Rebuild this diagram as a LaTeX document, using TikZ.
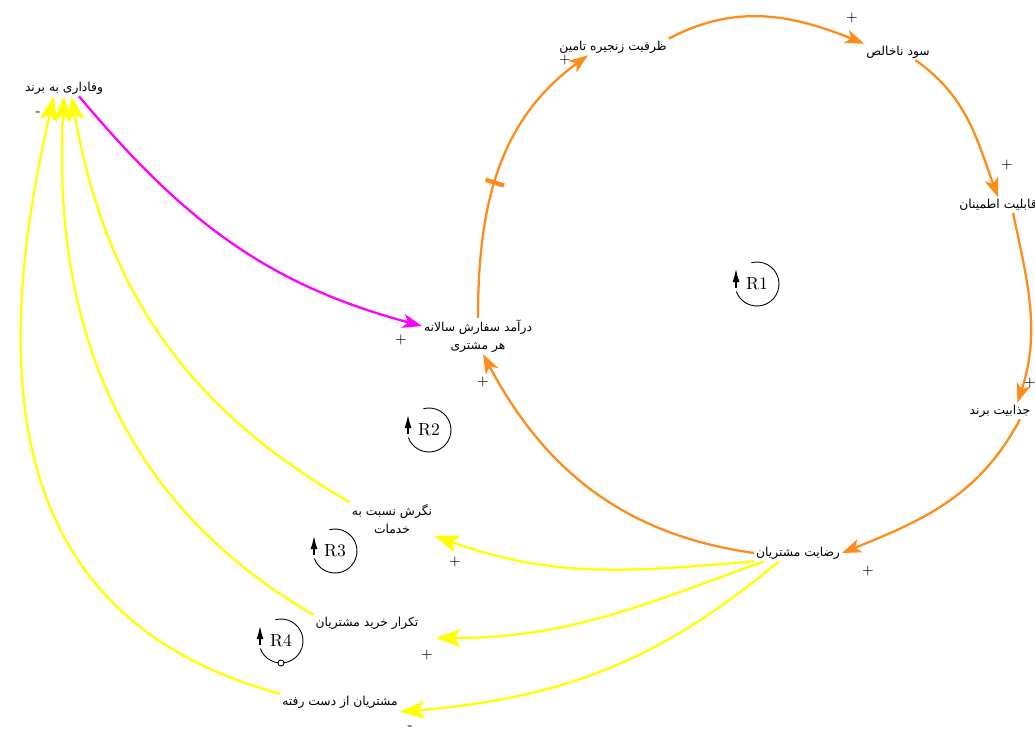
\documentclass[tikz,border=0pt]{standalone}
\usepackage{fontspec}
\newfontfamily\farsi[Script=Arabic]{DejaVu Sans}
\TeXXeTstate=1
\usetikzlibrary{arrows.meta,positioning}

\definecolor{ringor}{RGB}{255,140,26}
\definecolor{linkye}{RGB}{255,255,0}
\definecolor{linkmg}{RGB}{255,0,255}

\begin{document}
\begin{tikzpicture}[x=0.02cm, y=0.02cm,
		var/.style={font=\farsi\fontsize{7}{10}\selectfont, align=center, inner sep=1pt},
		sgn/.style={font=\fontsize{8}{8}\selectfont, inner sep=0pt},
		loopname/.style={font=\fontsize{10}{10}\selectfont, inner sep=0pt},
		ringarrow/.style={draw=ringor, line width=1.3pt, -{Stealth[length=11pt,width=8pt,inset=3pt]}},
		yearrow/.style={draw=linkye, line width=1.3pt, -{Stealth[length=14pt,width=10pt,inset=3pt]}},
		mgarrow/.style={draw=linkmg, line width=1.3pt, -{Stealth[length=11pt,width=8pt,inset=3pt]}},
		delaymark/.style={fill=ringor, minimum width=2.5pt, minimum height=11pt, inner sep=0pt},
		looparc/.style={draw, line width=0.5pt}
		]
		\useasboundingbox (0,0) rectangle (1035,-733);

		% variables
		\node[var](L) at (64,-88){\beginR وفاداری به برند\endR};
		\node[var](S) at (613,-47){\beginR ظرفیت زنجیره تامین\endR};
		\node[var](P) at (898,-52){\beginR سود ناخالص\endR};
		\node[var](Rl) at (998,-205){\beginR قابلیت اطمینان\endR};
		\node[var](A) at (1000,-411){\beginR جذابیت برند\endR};
		\node[var](C) at (798,-553){\beginR رضایت مشتریان\endR};
		\node[var](V) at (478,-336){\beginR درآمد سفارش سالانه\endR\\ \beginR هر مشتری\endR};
		\node[var](T) at (392,-519){\beginR نگرش نسبت به\endR\\ \beginR خدمات\endR};
		\node[var, below of = T, xshift = -0.5cm, yshift = -1.08cm](Rp){\beginR تکرار خرید مشتریان\endR};
		\node[var, below of = Rp, xshift = -0.54cm, yshift = -0.58cm](X){\beginR مشتریان از دست رفته\endR};

		% main ring
		\draw[ringarrow] (V.north) to[out=90,in=216] node[delaymark, pos=0.45, sloped]{} ([xshift=-0.5cm]S.south);
		\draw[ringarrow] (S.north east) to[out=28,in=158] (P.north west);
		\draw[ringarrow] ([xshift=0.35cm]P.south) to[out=-35,in=110] (Rl.north);
		\draw[ringarrow] ([xshift=0.3cm]Rl.south) to[out=-78,in=72] ([xshift=0.35cm]A.north);
		\draw[ringarrow] ([xshift=0.4cm]A.south) to[out=-118,in=22] (C.east);
		\draw[ringarrow] (C.west) to[out=172,in=-62] ([xshift=0.1cm]V.south);

		% loyalty link
		\draw[mgarrow] ([xshift=0.3cm]L.south) to[out=-50,in=165] ([yshift=0.2cm]V.west);

		% satisfaction links
		\draw[yearrow] (C.south west) to[out=185,in=-20] (T.south east);
		\draw[yearrow] ([xshift=0.2cm]C.south west) to[out=200,in=0] ([xshift=0.3cm,yshift=-0.3cm]Rp.east);
		\draw[yearrow] ([xshift=0.5cm]C.south west) to[out=220,in=5] ([yshift=-0.2cm]X.east);

		% back to loyalty
		\draw[yearrow] (T.north west) to[out=150,in=-80] ([xshift=0.15cm]L.south);
		\draw[yearrow] (Rp.north west) to[out=150,in=-93] (L.south);
		\draw[yearrow] (X.north west) to[out=165,in=-103, looseness=1.15] ([xshift=-0.2cm]L.south);

		% polarities
		\node[sgn](s1) at (38,-114){-};
		\node[sgn](s2) at (565,-60){+};
		\node[sgn](s3) at (852,-18){+};
		\node[sgn](s4) at (1007,-165){+};
		\node[sgn](s5) at (1030,-383){+};
		\node[sgn](s6) at (868,-571){+};
		\node[sgn](s7) at (401,-340){+};
		\node[sgn](s8) at (483,-382){+};
		\node[sgn](s9) at (455,-562){+};
		\node[sgn](s10) at (427,-655){+};
		\node[sgn](s11) at (410,-728){-};

		% loops
		\node[loopname](R1) at (757,-284){R1};
		\node[loopname](R2) at (429,-430){R2};
		\node[loopname](R3) at (335,-551){R3};
		\node[loopname](R4) at (281,-641){R4};
		\foreach \r in {R1,R2,R3,R4}{
			\draw[looparc] (\r.center) ++(105:22) arc[start angle=105, end angle=-160, radius=22];
			\draw[-{Latex[length=8pt,width=4pt]}, line width=1.2pt] ([shift={(-21,-4)}]\r.center) -- ++(0,20);
		}
		\draw[fill=white, line width=0.5pt] ([yshift=-0.44cm]R4.center) circle (3);
	\end{tikzpicture}
\end{document}
